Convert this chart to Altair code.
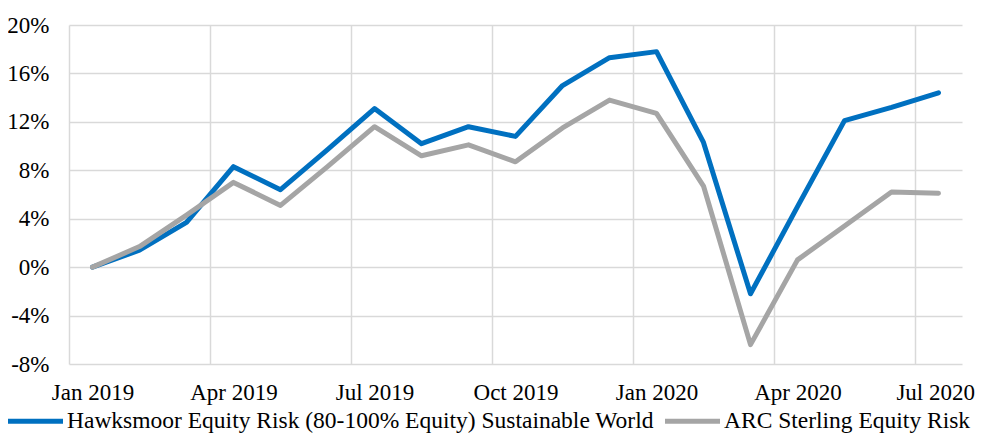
import altair as alt
import pandas as pd

months = ["Jan 2019", "Feb 2019", "Mar 2019", "Apr 2019", "May 2019", "Jun 2019",
          "Jul 2019", "Aug 2019", "Sep 2019", "Oct 2019", "Nov 2019", "Dec 2019",
          "Jan 2020", "Feb 2020", "Mar 2020", "Apr 2020", "May 2020", "Jun 2020",
          "Jul 2020"]
hawksmoor = [0.0, 1.4, 3.7, 8.3, 6.4, 9.7, 13.1, 10.2, 11.6, 10.8, 15.0, 17.3,
             17.8, 10.3, -2.2, 5.0, 12.1, 13.2, 14.4]
arc = [0.0, 1.7, 4.3, 7.0, 5.1, 8.3, 11.6, 9.2, 10.1, 8.7, 11.5, 13.8,
       12.7, 6.7, -6.4, 0.6, 3.4, 6.2, 6.1]
series_names = ["Hawksmoor Equity Risk (80-100% Equity) Sustainable World",
                "ARC Sterling Equity Risk"]
series_colors = ["#0070C0", "#A5A5A5"]
x_tick_labels = ["Jan 2019", "Apr 2019", "Jul 2019", "Oct 2019", "Jan 2020",
                 "Apr 2020", "Jul 2020"]
y_ticks = [-8, -4, 0, 4, 8, 12, 16, 20]

rows = []
for name, vals in zip(series_names, [hawksmoor, arc]):
    for i, (m, v) in enumerate(zip(months, vals)):
        rows.append({"series": name, "month": m, "idx": i, "value": v})
df = pd.DataFrame(rows)

FONT = "Liberation Serif"
FS = 23
n = len(months)
grid_vals = [months.index(lbl) - 0.5 for lbl in x_tick_labels]
label_js = "[" + ",".join("'%s'" % s for s in x_tick_labels) + "]"
last_val = grid_vals[-1]

W, H = 893, 339
half_band = W / n / 2

chart = alt.Chart(df).mark_line(strokeWidth=5, strokeCap="round", strokeJoin="round").encode(
    x=alt.X("idx:Q",
            scale=alt.Scale(domain=[-0.5, n - 0.5], nice=False, zero=False),
            axis=alt.Axis(values=grid_vals, grid=True, gridColor="#D9D9D9", gridWidth=1.5,
                          domain=False, ticks=False, title=None, labelFlush=False,
                          labelOverlap=False,
                          labelExpr=label_js + "[round((datum.value + 0.5) / 3)]",
                          labelAlign={"expr": "datum.value >= %s ? 'right' : 'center'" % last_val},
                          labelOffset={"expr": "datum.value >= %s ? %s : %s" % (last_val, half_band + 36, half_band)},
                          labelPadding=17,
                          labelFont=FONT, labelFontSize=FS, labelColor="#000000")),
    y=alt.Y("value:Q",
            scale=alt.Scale(domain=[-8, 20], nice=False),
            axis=alt.Axis(values=y_ticks, labelExpr="datum.value + '%'", grid=True,
                          gridColor="#D9D9D9", gridWidth=1.5, domain=False, ticks=False,
                          title=None, labelPadding=20, labelFont=FONT, labelFontSize=FS,
                          labelColor="#000000", labelFlush=False, labelOverlap=False)),
    color=alt.Color("series:N",
                    scale=alt.Scale(domain=series_names, range=series_colors),
                    sort=series_names,
                    legend=alt.Legend(title=None, orient="none", legendX=-63.5, legendY=366,
                                      direction="horizontal", symbolType="stroke",
                                      symbolSize=3025, symbolStrokeWidth=5,
                                      labelFont=FONT, labelFontSize=23.5, labelColor="#000000",
                                      labelOffset=1.5, columnPadding=0, padding=0,
                                      labelLimit=1000)),
    order=alt.Order("idx:Q"),
).properties(
    width=W, height=H,
    autosize=alt.AutoSizeParams(type="none"),
    padding={"left": 61, "top": 17, "right": 14, "bottom": 71},
).configure_view(stroke=None)

chart.save("out.html", embed_options={"renderer": "svg", "actions": False})
